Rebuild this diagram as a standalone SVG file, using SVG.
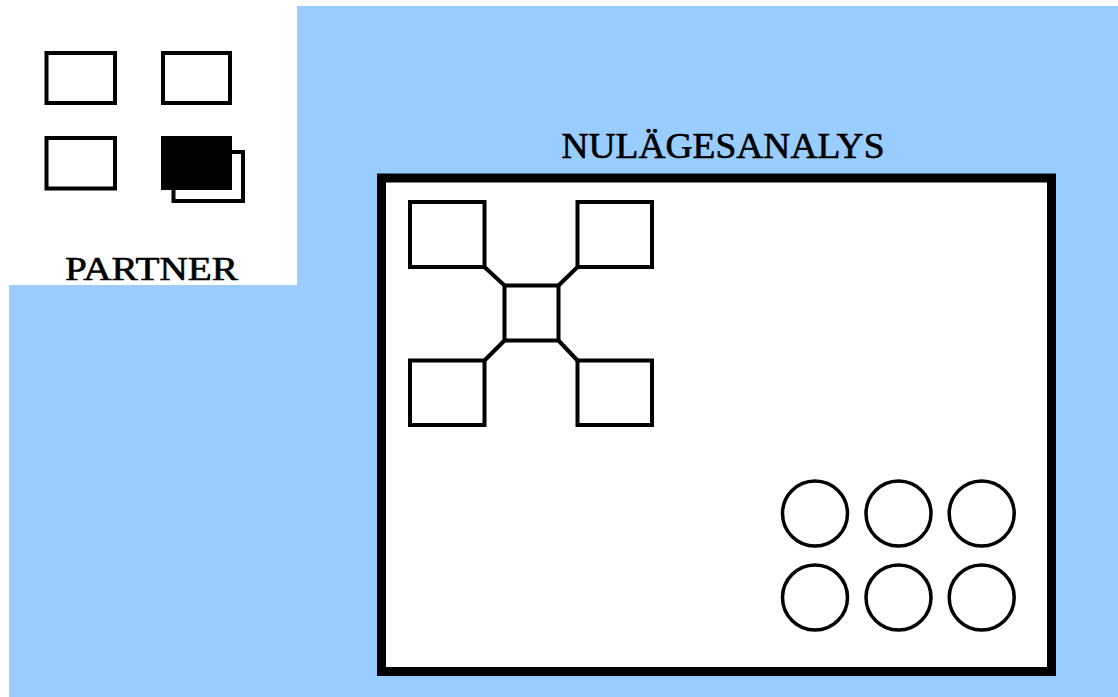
<svg xmlns="http://www.w3.org/2000/svg" width="1118" height="697" viewBox="0 0 1118 697">
<style>
.box{fill:#fff;stroke:#000;stroke-width:4}
.circ{fill:#fff;stroke:#000;stroke-width:3.5}
.conn{stroke:#000;stroke-width:4;fill:none}
.lbl{font-family:"Liberation Serif",serif;font-weight:normal;fill:#000;stroke:#000;stroke-width:0.6}
</style>
<rect x="0" y="0" width="1118" height="697" fill="#fff"/>
<polygon points="297,6 1118,6 1118,697 9,697 9,285 297,285" fill="#99CCFF"/>
<g id="partner">
<rect class="box" x="46.5" y="53" width="68.5" height="50"/>
<rect class="box" x="163" y="53" width="67" height="50"/>
<rect class="box" x="46.5" y="138" width="68.5" height="50.5"/>
<rect class="box" x="173.5" y="152" width="69.5" height="49" stroke-width="3.5"/>
<rect x="161" y="136" width="71" height="54" fill="#000"/>
<text class="lbl" x="151.5" y="280" font-size="33" text-anchor="middle" textLength="173" lengthAdjust="spacingAndGlyphs">PARTNER</text>
</g>
<g id="nulagesanalys">
<text class="lbl" x="723" y="158" font-size="35" text-anchor="middle" textLength="323" lengthAdjust="spacingAndGlyphs">NULÄGESANALYS</text>
<rect x="381.5" y="178" width="670" height="493.5" fill="#fff" stroke="#000" stroke-width="9"/>
</g>
<g id="connectors">
<line class="conn" x1="484.5" y1="267" x2="504.5" y2="285.5"/>
<line class="conn" x1="577.5" y1="267" x2="558.5" y2="285.5"/>
<line class="conn" x1="484.5" y1="360.5" x2="504.5" y2="340.5"/>
<line class="conn" x1="577.5" y1="360.5" x2="558.5" y2="340.5"/>
</g>
<g id="sq-tl"><rect class="box" x="410" y="202" width="74.5" height="65"/></g>
<g id="sq-tr"><rect class="box" x="577.5" y="202" width="74.5" height="65"/></g>
<g id="sq-c"><rect class="box" x="504.5" y="285.5" width="54" height="55"/></g>
<g id="sq-bl"><rect class="box" x="410" y="360.5" width="74.5" height="64.5"/></g>
<g id="sq-br"><rect class="box" x="577.5" y="360.5" width="74.5" height="64.5"/></g>
<g id="circles">
<circle class="circ" cx="815" cy="513.5" r="32.5"/>
<circle class="circ" cx="898.5" cy="513.5" r="32.5"/>
<circle class="circ" cx="981.7" cy="513.5" r="32.5"/>
<circle class="circ" cx="815" cy="597.5" r="32.5"/>
<circle class="circ" cx="898.5" cy="597.5" r="32.5"/>
<circle class="circ" cx="981.7" cy="597.5" r="32.5"/>
</g>
</svg>
